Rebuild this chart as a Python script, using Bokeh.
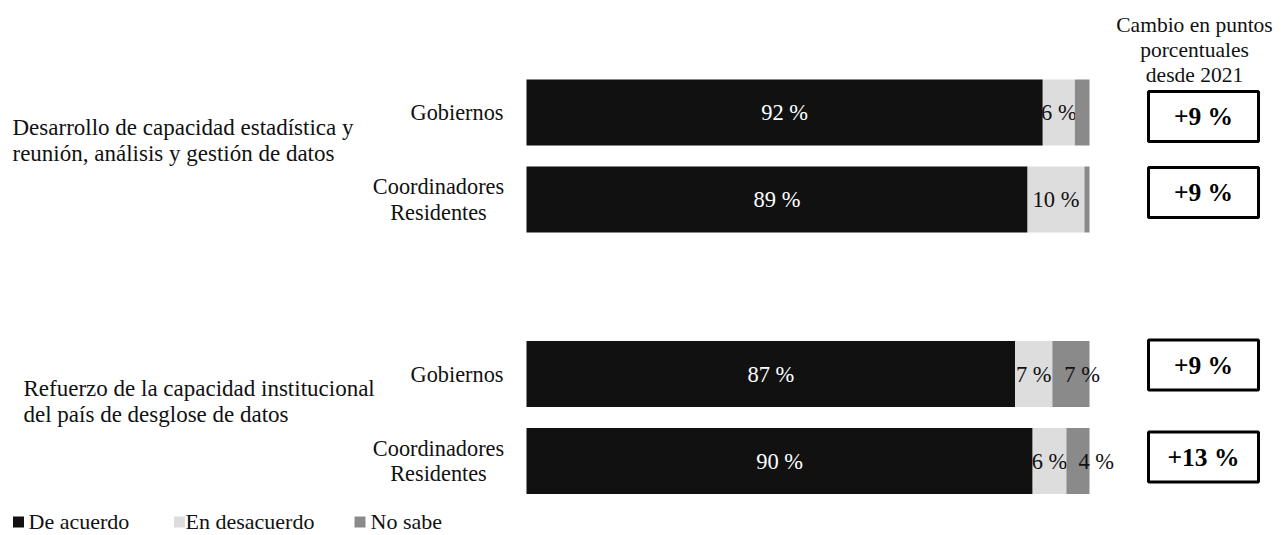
from bokeh.plotting import figure
from bokeh.models import Range1d, ColumnDataSource
from bokeh.core.properties import value
from bokeh.embed import file_html
from bokeh.resources import INLINE

# ---------------- data ----------------
groups = ["Desarrollo de capacidad estadística y\nreunión, análisis y gestión de datos",
          "Refuerzo de la capacidad institucional\ndel país de desglose de datos"]
respondents = ["Gobiernos", "Coordinadores\nResidentes"]
series = ["De acuerdo", "En desacuerdo", "No sabe"]
de_acuerdo = [91.7, 89.0, 86.8, 89.9]
en_desacuerdo = [5.7, 10.1, 6.6, 6.0]
no_sabe = [2.6, 0.9, 6.6, 4.1]
cambio = ["+9 %", "+9 %", "+9 %", "+13 %"]
header = "Cambio en puntos\nporcentuales\ndesde 2021"

# ---------------- style / layout ----------------
W, H = 1284, 535
PXU = 5.63          # pixels per percentage point
BAR_LEFT = 526      # canvas px where bars start
FONT = value("Liberation Serif")
TXT = "#111111"
colors = ["#111111", "#dddddd", "#8a8a8a"]
label_colors = ["#ffffff", "#111111", "#111111"]


def sx(px):
    return (px - BAR_LEFT) / PXU


p = figure(width=W, height=H, output_backend="svg", toolbar_location=None,
           x_range=Range1d(sx(0), sx(W)), y_range=Range1d(H, 0),
           min_border=0, background_fill_color="white", border_fill_color="white")
p.axis.visible = False
p.xgrid.visible = False
p.ygrid.visible = False
p.outline_line_color = None

# bar vertical positions
first_center, row_gap, group_gap, bar_h = 112, 87, 261.5, 66
ycent = []
for g in range(len(groups)):
    for r in range(len(respondents)):
        ycent.append(first_center + g * group_gap + r * row_gap)

vals = [de_acuerdo, en_desacuerdo, no_sabe]
left = [0.0] * len(ycent)
for k, (name, v) in enumerate(zip(series, vals)):
    right = [l + x for l, x in zip(left, v)]
    src = ColumnDataSource(dict(y=ycent, left=left, right=right))
    p.hbar(y="y", left="left", right="right", height=bar_h, source=src,
           fill_color=colors[k], line_color=None)
    lx, ly, lt = [], [], []
    for i in range(len(ycent)):
        if v[i] < 3:
            continue
        if k == 2:
            lx.append(left[i] + 12 / PXU)
        else:
            lx.append((left[i] + right[i]) / 2)
        ly.append(ycent[i])
        lt.append(f"{round(v[i])} %")
    p.text(x=lx, y=ly, text=lt, text_font=FONT, text_font_size="22.5px",
           text_color=label_colors[k], text_align="left" if k == 2 else "center",
           text_baseline="middle")
    left = right

# respondent labels
for g in range(len(groups)):
    for r, name in enumerate(respondents):
        yc = ycent[g * len(respondents) + r]
        lines = name.split("\n")
        if len(lines) == 1:
            p.text(x=[sx(503)], y=[yc], text=[name], text_font=FONT, text_font_size="22.3px",
                   text_color=TXT, text_align="right", text_baseline="middle")
        else:
            n = len(lines)
            ys = [yc + (j - (n - 1) / 2) * 25.5 for j in range(n)]
            p.text(x=[sx(438)] * n, y=ys, text=lines, text_font=FONT, text_font_size="22.3px",
                   text_color=TXT, text_align="center", text_baseline="middle")

# group labels
group_x = [12, 23]
for g, name in enumerate(groups):
    gc = (ycent[g * 2] + ycent[g * 2 + 1]) / 2 - 16
    lines = name.split("\n")
    n = len(lines)
    ys = [gc + (j - (n - 1) / 2) * 26 for j in range(n)]
    p.text(x=[sx(group_x[g])] * n, y=ys, text=lines, text_font=FONT, text_font_size="23px",
           text_color=TXT, text_align="left", text_baseline="middle")

# header
hl = header.split("\n")
p.text(x=[sx(1194)] * len(hl), y=[24 + 25 * j for j in range(len(hl))], text=hl,
       text_font=FONT, text_font_size="21.5px", text_color=TXT,
       text_align="center", text_baseline="middle")

# change boxes
box_dy = [4, -7, -9, -4]
bx = sx(1203)
by = [y + d for y, d in zip(ycent, box_dy)]
p.rect(x=[bx] * len(by), y=by, width=110 / PXU, height=50, fill_color="white",
       line_color="black", line_width=3)
p.text(x=[bx] * len(by), y=by, text=cambio, text_font=FONT, text_font_size="25.5px",
       text_font_style="bold", text_color="black", text_align="center",
       text_baseline="middle")

# legend
leg_sq_x = [18, 179, 359.5]
leg_txt_x = [28, 185, 370]
leg_y = 521.5
for k, name in enumerate(series):
    p.rect(x=[sx(leg_sq_x[k])], y=[leg_y], width=11 / PXU, height=11,
           fill_color=colors[k], line_color=None)
    p.text(x=[sx(leg_txt_x[k])], y=[leg_y - 0.5], text=[name], text_font=FONT,
           text_font_size="22px", text_color=TXT, text_align="left", text_baseline="middle")

open("out.html", "w").write(file_html(p, INLINE))
